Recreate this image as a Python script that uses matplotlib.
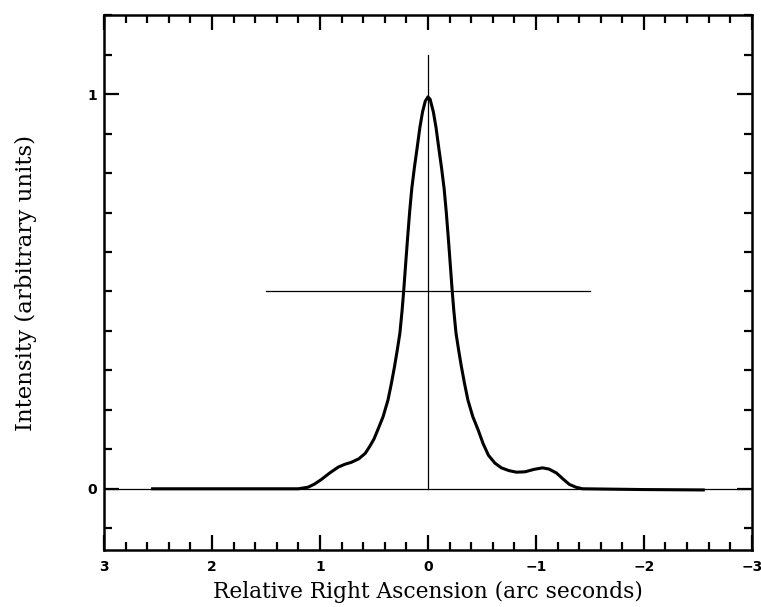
import numpy as np
import matplotlib.pyplot as plt
from matplotlib.ticker import MultipleLocator, FixedLocator

# brightness profile (x in arc seconds, intensity normalised)
profile_x = [2.55, 2.0, 1.5, 1.2, 1.11, 1.05, 0.99, 0.91, 0.83, 0.77, 0.71, 0.64,
             0.58, 0.54, 0.50, 0.465, 0.415, 0.37, 0.34, 0.31, 0.285, 0.26, 0.24,
             0.225, 0.205, 0.19, 0.17, 0.15, 0.125, 0.10, 0.075, 0.05, 0.025,
             0.0, -0.02, -0.05, -0.075, -0.10, -0.125, -0.15, -0.17, -0.19,
             -0.205, -0.225, -0.24, -0.26, -0.285, -0.31, -0.34, -0.37, -0.415,
             -0.465, -0.51, -0.56, -0.62, -0.68, -0.75, -0.82, -0.90, -0.98,
             -1.06, -1.12, -1.19, -1.25, -1.31, -1.37, -1.43, -2.0, -2.55]
profile_y = [0.0, 0.0, 0.0, 0.0, 0.004, 0.012, 0.023, 0.04, 0.055, 0.062, 0.067,
             0.076, 0.09, 0.107, 0.126, 0.149, 0.183, 0.225, 0.265, 0.309, 0.35,
             0.394, 0.45, 0.50, 0.575, 0.63, 0.70, 0.76, 0.815, 0.864, 0.915,
             0.955, 0.982, 0.993, 0.987, 0.955, 0.915, 0.864, 0.815, 0.76, 0.70,
             0.63, 0.575, 0.50, 0.45, 0.394, 0.35, 0.309, 0.265, 0.225, 0.183,
             0.149, 0.115, 0.085, 0.065, 0.053, 0.046, 0.042, 0.043, 0.049,
             0.053, 0.05, 0.04, 0.025, 0.011, 0.004, 0.0, -0.002, -0.003]

# reference marks: half-maximum bar and centre line
half_bar_x = [1.5, -1.5]
half_bar_y = [0.5, 0.5]
centre_x = [0.0, 0.0]
centre_y = [0.0, 1.1]

x_ticks = [3, 2, 1, 0, -1, -2, -3]
x_labels = ['3', '2', '1', '0', '\u22121', '\u22122', '\u22123']
y_ticks = [0, 1]
y_labels = ['0', '1']

fig = plt.figure(figsize=(7.61, 6.07), dpi=100)
ax = fig.add_axes([0.1367, 0.094, 0.8513, 0.881])

ax.axhline(0, color='black', lw=0.9)
ax.plot(half_bar_x, half_bar_y, color='black', lw=0.9)
ax.plot(centre_x, centre_y, color='black', lw=0.9)
ax.plot(profile_x, profile_y, color='black', lw=2.2, solid_joinstyle='round')

ax.set_xlim(3, -3)
ax.set_ylim(-0.155, 1.2)

ax.xaxis.set_major_locator(FixedLocator(x_ticks))
ax.set_xticklabels(x_labels)
ax.xaxis.set_minor_locator(MultipleLocator(0.2))
ax.yaxis.set_major_locator(FixedLocator(y_ticks))
ax.set_yticklabels(y_labels)
ax.yaxis.set_minor_locator(MultipleLocator(0.1))

ax.tick_params(which='both', direction='in', top=True, right=True, width=1.6)
ax.tick_params(which='major', length=11, labelsize=10)
ax.tick_params(which='minor', length=6)
ax.tick_params(axis='x', which='major', pad=7)
ax.tick_params(axis='y', which='major', pad=5)
for lab in ax.get_xticklabels() + ax.get_yticklabels():
    lab.set_fontfamily('DejaVu Sans')
    lab.set_fontweight('bold')

for sp in ax.spines.values():
    sp.set_linewidth(1.8)

ax.set_xlabel('Relative Right Ascension (arc seconds)', family='DejaVu Serif',
              fontsize=15.7, labelpad=5)
ax.set_ylabel('Intensity (arbitrary units)', family='DejaVu Serif',
              fontsize=16.5, labelpad=36)

fig.savefig('out.png', dpi=100)
